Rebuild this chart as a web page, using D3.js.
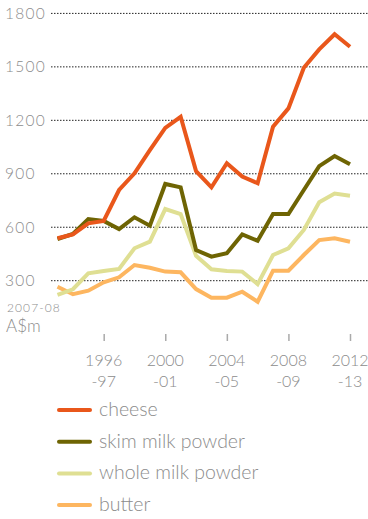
<!DOCTYPE html>
<html>
<head>
<meta charset="utf-8">
<script src="https://cdn.jsdelivr.net/npm/d3@7"></script>
<style>
  html, body { margin: 0; padding: 0; background: #fff; }
  svg { display: block; font-family: Lato, "Open Sans", sans-serif; font-weight: 300; }
</style>
</head>
<body>
<svg id="chart" width="368" height="519"></svg>
<script>
// financial years, by starting year (1993-94 ... 2012-13)
const years = d3.range(1993, 2013);

const cheese = [538, 560, 622, 635, 809, 903, 1033, 1158, 1220, 915, 824, 959, 884, 847, 1164, 1267, 1495, 1598, 1683, 1613];
const skimMilkPowder = [534, 562, 646, 635, 590, 656, 609, 843, 824, 472, 435, 454, 560, 524, 674, 674, 809, 943, 1000, 953];
const wholeMilkPowder = [220, 252, 341, 354, 366, 482, 519, 702, 674, 440, 364, 355, 351, 281, 444, 482, 585, 740, 789, 777];
const butter = [266, 224, 244, 291, 319, 388, 373, 351, 347, 253, 205, 205, 238, 182, 356, 356, 444, 528, 538, 519];

const yTicks = [300, 600, 900, 1200, 1500, 1800];
const xTicks = [1996, 2000, 2004, 2008, 2012];
const xTickLabels = [["1996", "-97"], ["2000", "-01"], ["2004", "-05"], ["2008", "-09"], ["2012", "-13"]];

const series = [
  { name: "butter", values: butter, color: "#fdb660" },
  { name: "whole milk powder", values: wholeMilkPowder, color: "#dfdf93" },
  { name: "skim milk powder", values: skimMilkPowder, color: "#6e6403" },
  { name: "cheese", values: cheese, color: "#e9571b" }
];
const legendOrder = ["cheese", "skim milk powder", "whole milk powder", "butter"];

const svg = d3.select("#chart");
const textColor = "#8c8c8c";

const x = d3.scaleLinear().domain([1993, 2012]).range([57.5, 350]);
const y = d3.scaleLinear().domain([300, 1800]).range([280.7, 13.4]);

// dotted grid lines
svg.append("g")
  .selectAll("line")
  .data(yTicks)
  .join("line")
  .attr("x1", 51).attr("x2", 368)
  .attr("y1", d => y(d)).attr("y2", d => y(d))
  .attr("stroke", "#222")
  .attr("stroke-width", 1)
  .attr("stroke-dasharray", "1.5,1.5");

// y labels (left aligned)
svg.append("g")
  .selectAll("text")
  .data(yTicks)
  .join("text")
  .attr("x", 5)
  .attr("y", d => y(d))
  .attr("dy", "0.35em")
  .attr("font-size", 15.5)
  .attr("letter-spacing", 1.3)
  .attr("fill", textColor)
  .text(d => d);

svg.append("text")
  .attr("x", 7).attr("y", 308).attr("dy", "0.35em")
  .attr("font-size", 12).attr("letter-spacing", 1.1).attr("fill", textColor)
  .text("2007-08");
svg.append("text")
  .attr("x", 6).attr("y", 326).attr("dy", "0.35em")
  .attr("font-size", 17).attr("fill", textColor)
  .text("A$m");

// x axis ticks + two-line labels
const xg = svg.append("g")
  .attr("transform", "translate(0,334)")
  .call(d3.axisBottom(x).tickValues(xTicks).tickSize(7).tickFormat(""));
xg.select(".domain").remove();
xg.selectAll(".tick line").attr("stroke", "#aaa").attr("stroke-width", 1.5);

const xl = svg.append("g")
  .selectAll("text")
  .data(xTicks)
  .join("text")
  .attr("x", d => x(d))
  .attr("y", 360)
  .attr("text-anchor", "middle")
  .attr("font-size", 16)
  .attr("fill", textColor);
xl.append("tspan").attr("x", d => x(d)).attr("dy", "0.35em").text((d, i) => xTickLabels[i][0]);
xl.append("tspan").attr("x", d => x(d)).attr("dy", "1.35em").text((d, i) => xTickLabels[i][1]);

// lines
const line = d3.line()
  .x((d, i) => x(years[i]))
  .y(d => y(d));

svg.append("g")
  .selectAll("path")
  .data(series)
  .join("path")
  .attr("d", d => line(d.values))
  .attr("fill", "none")
  .attr("stroke", d => d.color)
  .attr("stroke-width", 4)
  .attr("stroke-linejoin", "miter");

// legend
const lg = svg.append("g")
  .selectAll("g")
  .data(legendOrder.map(n => series.find(s => s.name === n)))
  .join("g")
  .attr("transform", (d, i) => `translate(0,${410 + i * 31.7})`);
lg.append("line")
  .attr("x1", 59).attr("x2", 90)
  .attr("stroke", d => d.color)
  .attr("stroke-width", 4)
  .attr("stroke-linecap", "round");
lg.append("text")
  .attr("x", 99).attr("dy", "0.3em")
  .attr("font-size", 19.5)
  .attr("fill", textColor)
  .text(d => d.name);
</script>
</body>
</html>
